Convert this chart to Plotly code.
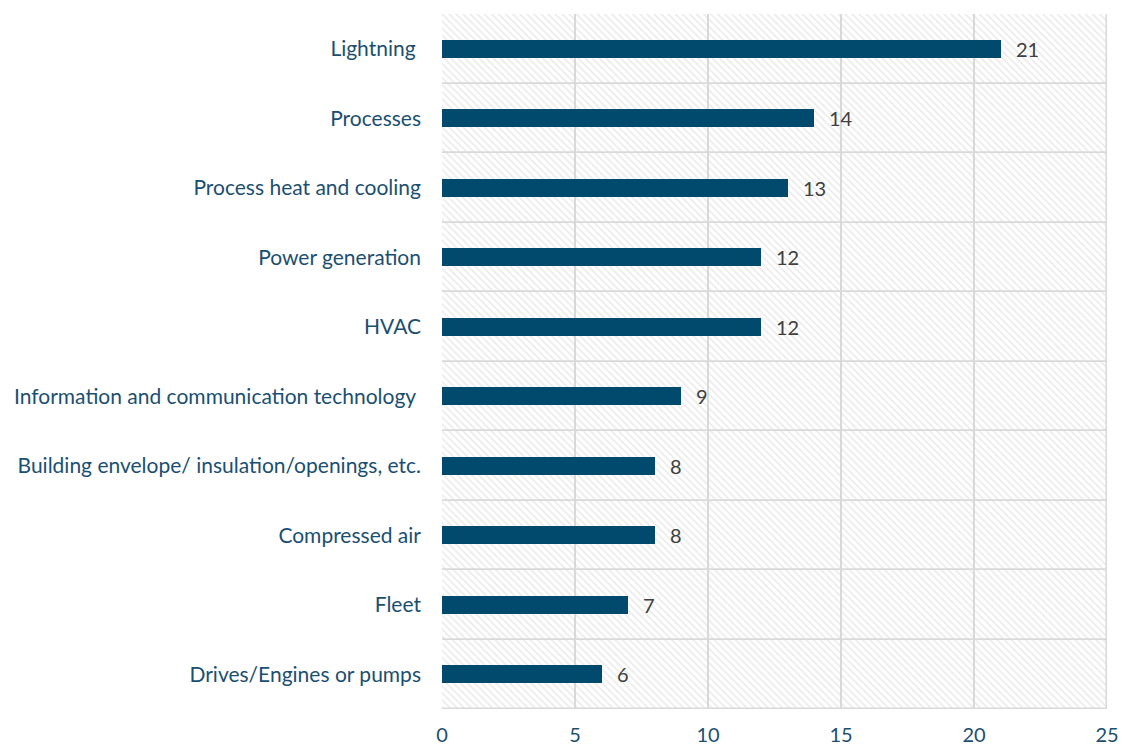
import plotly.graph_objects as go

# Energy-efficiency measure categories and their counts
categories = [
    "Lightning\u00a0",
    "Processes",
    "Process heat and cooling",
    "Power generation",
    "HVAC",
    "Information and communication technology\u00a0",
    "Building envelope/ insulation/openings, etc.",
    "Compressed air",
    "Fleet",
    "Drives/Engines or pumps",
]
counts = [21, 14, 13, 12, 12, 9, 8, 8, 7, 6]
x_max = 25
x_ticks = [0, 5, 10, 15, 20, 25]

BAR_COLOR = "#02496e"
LABEL_COLOR = "#1b4f72"
GRID_COLOR = "#d9d9d9"
FONT = "Lato"

fig = go.Figure()

# Hatched background bands, one per category row
fig.add_trace(go.Bar(
    y=categories,
    x=[x_max] * len(categories),
    orientation="h",
    width=1,
    marker=dict(
        color="rgba(0,0,0,0)",
        line=dict(color=GRID_COLOR, width=1.5),
        pattern=dict(shape="\\", fgcolor="#d4d4d4", bgcolor="rgba(0,0,0,0)",
                     size=5, solidity=0.3),
    ),
    hoverinfo="skip",
    showlegend=False,
))

# Data bars
fig.add_trace(go.Bar(
    y=categories,
    x=counts,
    orientation="h",
    width=0.26,
    marker=dict(color=BAR_COLOR, line=dict(width=0)),
    showlegend=False,
))

# Value labels to the right of each bar
for cat, v in zip(categories, counts):
    fig.add_annotation(
        x=v, y=cat, text=str(v), showarrow=False,
        xanchor="left", xshift=13,
        font=dict(family=FONT, size=20, color="#404040"),
    )

fig.update_layout(
    width=1124,
    height=746,
    margin=dict(l=442, r=17, t=14, b=37, autoexpand=False),
    barmode="overlay",
    plot_bgcolor="white",
    paper_bgcolor="white",
    font=dict(family=FONT, size=21, color=LABEL_COLOR),
    bargap=0,
)

fig.update_xaxes(
    range=[0, x_max],
    tickvals=x_ticks,
    showgrid=True,
    gridcolor=GRID_COLOR,
    gridwidth=1.5,
    zeroline=False,
    showline=False,
    ticks="",
    automargin=False,
    ticklabelstandoff=12,
    tickfont=dict(family=FONT, size=20, color=LABEL_COLOR),
    fixedrange=True,
)

fig.update_yaxes(
    categoryorder="array",
    categoryarray=categories[::-1],
    range=[-0.5, len(categories) - 0.5],
    showgrid=False,
    zeroline=False,
    ticks="",
    automargin=False,
    ticklabelstandoff=20,
    tickfont=dict(family=FONT, size=21, color=LABEL_COLOR),
    fixedrange=True,
)

fig.write_html("out.html")
